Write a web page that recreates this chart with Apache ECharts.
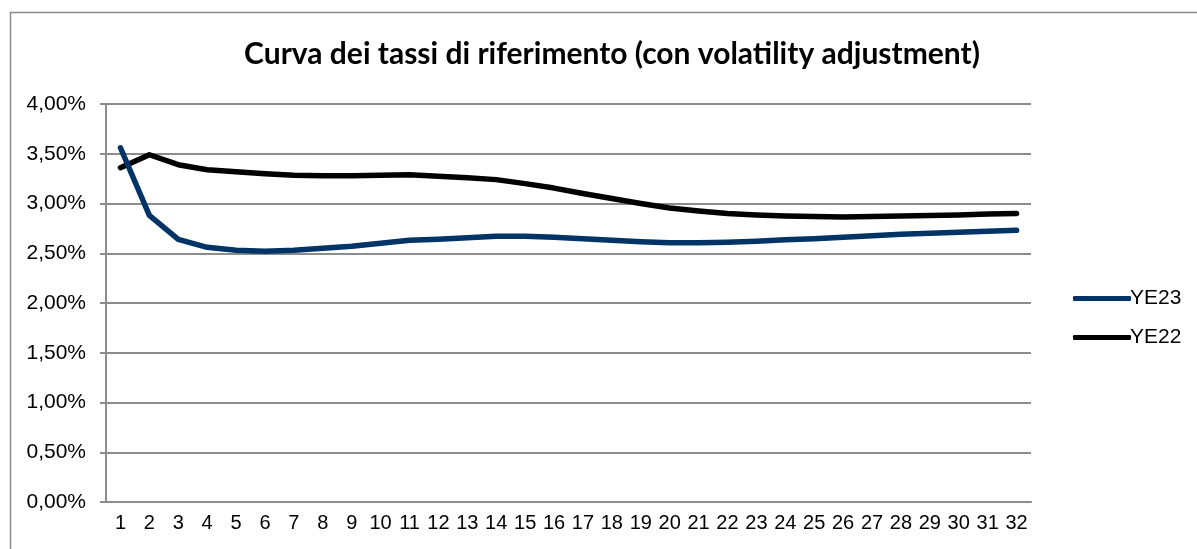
<!DOCTYPE html>
<html>
<head>
<meta charset="utf-8">
<script src="https://cdn.jsdelivr.net/npm/echarts@6/dist/echarts.min.js"></script>
<style>
  html, body { margin: 0; padding: 0; background: #fff; }
  #chart { width: 1197px; height: 549px; }
</style>
</head>
<body>
<div id="chart"></div>
<script>
var categories = ['1','2','3','4','5','6','7','8','9','10','11','12','13','14','15','16',
    '17','18','19','20','21','22','23','24','25','26','27','28','29','30','31','32'];

var ye23 = [3.56, 2.88, 2.64, 2.56, 2.53, 2.52, 2.53, 2.55, 2.57, 2.60, 2.63, 2.64, 2.655, 2.67, 2.67, 2.66,
    2.645, 2.63, 2.615, 2.605, 2.605, 2.61, 2.62, 2.635, 2.645, 2.66, 2.675, 2.69, 2.70, 2.71, 2.72, 2.73];

var ye22 = [3.36, 3.49, 3.39, 3.34, 3.32, 3.30, 3.285, 3.28, 3.28, 3.285, 3.29, 3.275, 3.26, 3.24, 3.20, 3.155,
    3.10, 3.05, 3.00, 2.955, 2.925, 2.90, 2.885, 2.875, 2.87, 2.865, 2.87, 2.875, 2.88, 2.885, 2.895, 2.90];

var seriesNames = ['YE23', 'YE22'];
var seriesColors = ['#003366', '#000000'];

function fmtPct(v) {
    return v.toFixed(2).replace('.', ',') + '%';
}

var chart = echarts.init(document.getElementById('chart'));
var option = {
    animation: false,
    backgroundColor: '#ffffff',
    title: {
        text: 'Curva dei tassi di riferimento (con volatility adjustment)',
        left: 607,
        top: 34,
        textAlign: 'center',
        textStyle: {
            fontFamily: 'Lato',
            fontWeight: 'bold',
            fontSize: 30,
            color: '#000'
        }
    },
    graphic: [{
        type: 'rect',
        shape: { x: 10.5, y: 12.5, width: 1200, height: 600 },
        style: { fill: 'none', stroke: '#8c8c8c', lineWidth: 1.5 },
        silent: true
    }],
    legend: {
        orient: 'vertical',
        left: 1068,
        top: 283,
        itemGap: 18,
        itemWidth: 58,
        itemHeight: 5,
        icon: 'roundRect',
        textStyle: { fontFamily: 'Liberation Sans', fontSize: 21, color: '#000', padding: [0, 0, 0, -6] },
        data: seriesNames
    },
    grid: { left: 106, right: 166, top: 104, bottom: 47 },
    xAxis: {
        type: 'category',
        data: categories,
        boundaryGap: true,
        axisLine: { lineStyle: { color: '#8c8c8c', width: 2 } },
        axisTick: { length: 6, lineStyle: { color: '#8c8c8c', width: 2 } },
        axisLabel: { fontFamily: 'Liberation Sans', fontSize: 20, color: '#000', margin: 11, interval: 0 }
    },
    yAxis: {
        type: 'value',
        min: 0,
        max: 4,
        interval: 0.5,
        axisLine: { show: true, lineStyle: { color: '#8c8c8c', width: 2 } },
        axisTick: { show: true, length: 6, lineStyle: { color: '#8c8c8c', width: 2 } },
        splitLine: { lineStyle: { color: '#8c8c8c', width: 2 } },
        axisLabel: {
            fontFamily: 'Liberation Sans', fontSize: 21, color: '#000', margin: 20,
            formatter: fmtPct
        }
    },
    series: [{
        name: seriesNames[0],
        type: 'line',
        data: ye23,
        smooth: false,
        showSymbol: false,
        symbol: 'none',
        lineStyle: { color: seriesColors[0], width: 5.5, cap: 'round', join: 'round' },
        itemStyle: { color: seriesColors[0] },
        z: 3
    }, {
        name: seriesNames[1],
        type: 'line',
        data: ye22,
        smooth: false,
        showSymbol: false,
        symbol: 'none',
        lineStyle: { color: seriesColors[1], width: 5.5, cap: 'round', join: 'round' },
        itemStyle: { color: seriesColors[1] },
        z: 2
    }]
};
chart.setOption(option);
</script>
</body>
</html>
